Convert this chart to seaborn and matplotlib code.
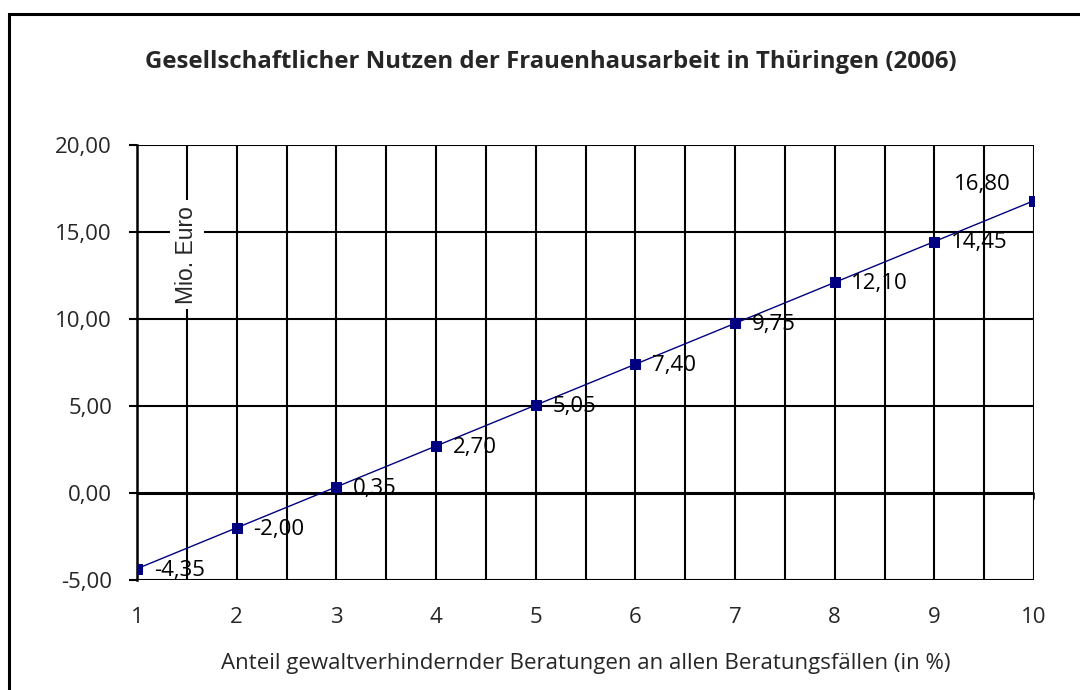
import matplotlib
matplotlib.use("Agg")
import matplotlib.pyplot as plt
import seaborn as sns
import numpy as np
import pandas as pd
from matplotlib.patches import Rectangle

# Data
anteil = [1, 2, 3, 4, 5, 6, 7, 8, 9, 10]
nutzen = [-4.35, -2.00, 0.35, 2.70, 5.05, 7.40, 9.75, 12.10, 14.45, 16.80]
labels = ["-4,35", "-2,00", "0,35", "2,70", "5,05", "7,40", "9,75", "12,10", "14,45", "16,80"]
yticks = [-5, 0, 5, 10, 15, 20]
ytick_labels = ["-5,00", "0,00", "5,00", "10,00", "15,00", "20,00"]
xticks = [1, 2, 3, 4, 5, 6, 7, 8, 9, 10]

title = "Gesellschaftlicher Nutzen der Frauenhausarbeit in Thüringen (2006)"
xlabel = "Anteil gewaltverhindernder Beratungen an allen Beratungsfällen (in %)"
ylabel = "Mio. Euro"

sns.set_style("white")
plt.rcParams["font.family"] = ["Open Sans", "DejaVu Sans"]

fig = plt.figure(figsize=(10.8, 6.9), dpi=100)
ax = fig.add_axes([137 / 1080, 1 - 580 / 690, (1034 - 137) / 1080, (580 - 145) / 690])

df = pd.DataFrame({"x": anteil, "y": nutzen})

ax.set_xlim(1, 10)
ax.set_ylim(-5, 20)

# grid
for gx in np.arange(1.5, 10.01, 0.5):
    ax.axvline(gx, color="black", lw=1.5, zorder=1)
for gy in [5, 10, 15, 20]:
    ax.axhline(gy, color="black", lw=1.5, zorder=1)
ax.axhline(-5, color="black", lw=1.5, zorder=1)
ax.axhline(0, color="black", lw=2.2, zorder=1)
# minor tick marks below zero line
for tx in xticks[1:]:
    ax.plot([tx, tx], [0, -0.35], color="black", lw=1.2, zorder=1, clip_on=False)

sns.lineplot(data=df, x="x", y="y", ax=ax, color="#000080", lw=1.0,
             marker="s", markersize=7, markeredgecolor="#000080", zorder=3)

for xv, yv, lab in zip(anteil, nutzen, labels):
    if xv == 10:
        ax.annotate(lab, (xv, yv), xytext=(-37, 12), textcoords="offset points",
                    fontsize=16, ha="center", va="center", color="black")
    else:
        ax.annotate(lab, (xv, yv), xytext=(12, -1), textcoords="offset points",
                    fontsize=16, ha="left", va="center", color="black")

for s in ["top", "right", "bottom"]:
    ax.spines[s].set_visible(False)
ax.spines["left"].set_linewidth(1.8)
ax.spines["left"].set_color("black")

ax.set_xticks(xticks)
ax.set_xticklabels([str(v) for v in xticks], fontsize=16)
ax.set_yticks(yticks)
ax.set_yticklabels(ytick_labels, fontsize=16)
ax.tick_params(axis="y", which="major", length=6, width=1.5, color="black", left=True, pad=12)
ax.tick_params(axis="x", which="major", length=0, pad=19.5)
ax.set_xlabel(xlabel, fontsize=16, labelpad=18)
ax.set_ylabel("")

ax.text(1.5, 13.7, ylabel, rotation=90, ha="center", va="center", fontsize=16.5,
        family=["Liberation Sans", "DejaVu Sans"],
        bbox=dict(facecolor="white", edgecolor="none", pad=4), zorder=2)

fig.text(551 / 1080, 1 - 62 / 690, title, ha="center", va="center", fontsize=17.3,
         fontweight="bold")

fig.patches.append(Rectangle((9 / 1080, -0.1), 1.2, 1 - 14 / 690 + 0.1, transform=fig.transFigure,
                             fill=False, edgecolor="black", lw=2.2, zorder=10))

fig.savefig("out.png", dpi=100)
